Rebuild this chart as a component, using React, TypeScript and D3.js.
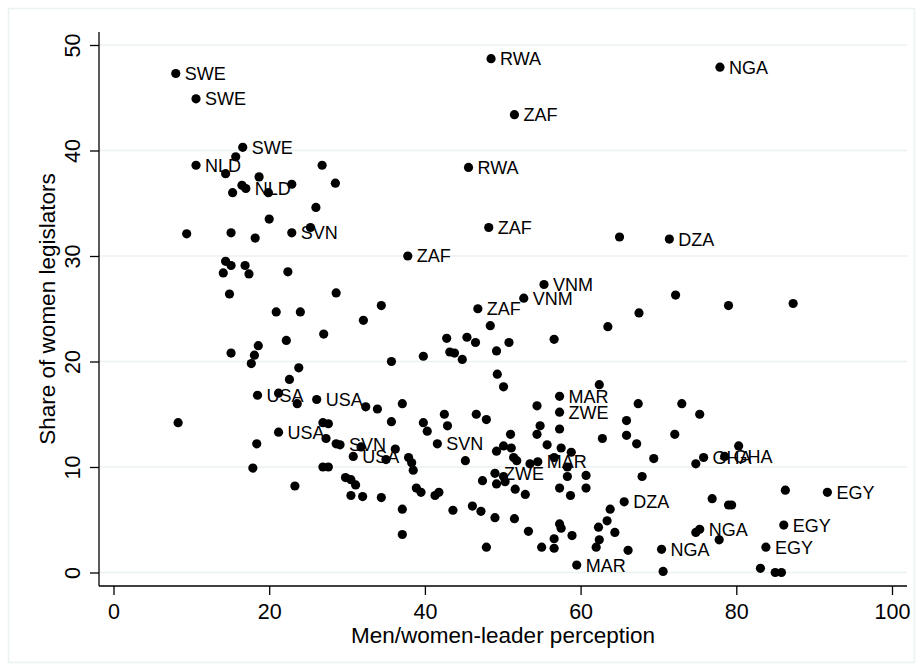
import React, { useEffect, useRef } from "react";
import * as d3 from "d3";

// countries with a marker label
const labelCodes = [
  "SWE", "SWE", "SWE", "NLD", "NLD", "SVN", "RWA", "ZAF", "RWA", "ZAF",
  "NGA", "DZA", "ZAF", "VNM", "VNM", "ZAF", "MAR", "ZWE", "USA", "USA",
  "USA", "SVN", "USA", "SVN", "MAR", "ZWE", "GHA", "GHA", "EGY", "EGY",
  "EGY", "NGA", "NGA", "DZA", "MAR",
];
const labelX = [
  8.0, 10.6, 16.6, 10.6, 17.0, 22.9, 48.5, 51.5, 45.6, 48.2,
  77.9, 71.4, 37.8, 55.3, 52.7, 46.8, 57.3, 57.3, 18.5, 26.1,
  21.2, 29.1, 30.8, 41.6, 54.5, 49.0, 75.8, 78.5, 91.7, 86.1,
  83.8, 75.3, 70.4, 65.6, 59.5,
];
const labelY = [
  47.3, 44.9, 40.3, 38.6, 36.4, 32.2, 48.7, 43.4, 38.4, 32.7,
  47.9, 31.6, 30.0, 27.3, 26.0, 25.0, 16.7, 15.2, 16.8, 16.4,
  13.3, 12.1, 11.0, 12.2, 10.5, 9.4, 10.9, 11.0, 7.6, 4.5,
  2.4, 4.1, 2.2, 6.7, 0.7,
];

// the remaining countries
const otherX = [
  15.7, 14.4, 26.8, 28.5, 18.7, 16.5, 15.3, 19.9, 22.9, 26.0,
  20.0, 25.3, 9.4, 15.1, 18.2, 14.4, 15.1, 16.9, 14.1, 17.4,
  22.4, 14.9, 28.6, 34.4, 20.9, 24.0, 32.1, 27.0, 22.2, 18.6,
  18.1, 15.1, 17.7, 35.7, 23.8, 22.6, 21.2, 23.6, 32.4, 33.9,
  8.3, 26.9, 27.6, 35.7, 18.4, 27.3, 28.6, 31.8, 35.0, 36.2,
  17.9, 26.9, 27.6, 29.8, 30.5, 31.1, 23.3, 30.5, 32.0, 34.4,
  65.0, 72.2, 79.0, 87.3, 48.4, 42.8, 45.4, 46.5, 50.8, 56.6,
  63.5, 67.5, 43.2, 43.8, 44.8, 49.2, 39.8, 49.3, 50.1, 62.4,
  54.4, 67.4, 37.1, 39.8, 42.5, 46.6, 47.9, 40.3, 42.9, 54.8,
  57.3, 65.9, 51.0, 54.4, 62.8, 65.9, 72.1, 67.2, 69.4, 67.9,
  37.9, 38.3, 38.5, 38.9, 39.5, 37.1, 37.1, 41.3, 41.8, 45.2,
  43.6, 46.1, 47.2, 49.0, 51.5, 47.9, 49.2, 50.1, 51.1, 51.4,
  51.8, 53.5, 55.7, 57.5, 58.8, 56.6, 58.3, 50.1, 50.3, 47.4,
  49.2, 51.6, 52.9, 58.3, 60.7, 60.7, 57.3, 58.7, 63.8, 63.4,
  62.3, 64.4, 62.4, 62.0, 66.1, 57.3, 57.5, 58.9, 53.3, 56.6,
  56.6, 55.0, 70.6, 73.0, 75.3, 80.3, 74.8, 86.3, 76.9, 79.0,
  79.4, 74.8, 77.8, 83.1, 85.0, 85.8,
];
const otherY = [
  39.4, 37.8, 38.6, 36.9, 37.5, 36.7, 36.0, 36.0, 36.8, 34.6,
  33.5, 32.7, 32.1, 32.2, 31.7, 29.5, 29.1, 29.1, 28.4, 28.3,
  28.5, 26.4, 26.5, 25.3, 24.7, 24.7, 23.9, 22.6, 22.0, 21.5,
  20.6, 20.8, 19.8, 20.0, 19.4, 18.3, 17.0, 16.0, 15.7, 15.5,
  14.2, 14.2, 14.1, 14.3, 12.2, 12.7, 12.2, 11.9, 10.7, 11.7,
  9.9, 10.0, 10.0, 9.0, 8.8, 8.3, 8.2, 7.3, 7.2, 7.1,
  31.8, 26.3, 25.3, 25.5, 23.4, 22.2, 22.3, 21.8, 21.8, 22.1,
  23.3, 24.6, 20.9, 20.8, 20.2, 21.0, 20.5, 18.8, 17.6, 17.8,
  15.8, 16.0, 16.0, 14.2, 15.0, 15.0, 14.5, 13.4, 13.9, 13.9,
  13.6, 14.4, 13.1, 13.1, 12.7, 13.0, 13.1, 12.2, 10.8, 9.1,
  10.9, 10.4, 9.7, 8.0, 7.6, 6.0, 3.6, 7.3, 7.6, 10.6,
  5.9, 6.3, 5.8, 5.2, 5.1, 2.4, 11.5, 12.0, 11.8, 10.9,
  10.6, 10.3, 12.1, 11.8, 11.4, 10.9, 10.0, 9.1, 8.6, 8.7,
  8.4, 7.9, 7.4, 9.1, 9.2, 8.0, 8.0, 7.3, 6.0, 4.9,
  4.3, 3.8, 3.1, 2.4, 2.1, 4.6, 4.2, 3.5, 3.9, 3.2,
  2.3, 2.4, 0.1, 16.0, 15.0, 12.0, 10.3, 7.8, 7.0, 6.4,
  6.4, 3.8, 3.1, 0.4, 0.0, 0.0,
];

const xTicks = [0, 20, 40, 60, 80, 100];
const yTicks = [0, 10, 20, 30, 40, 50];

const W = 923;
const H = 671;
const font = "'Liberation Sans', Arial, Helvetica, sans-serif";
const grid = "#eaf2f3";

export default function App() {
  const ref = useRef<SVGSVGElement>(null);

  useEffect(() => {
    const svg = d3.select(ref.current);
    svg.selectAll("*").remove();

    const left = 99, right = 907, top = 32, bottom = 586;
    const x = d3.scaleLinear().domain([0, 100]).range([113.5, 892]);
    const y = d3.scaleLinear().domain([0, 50]).range([572.5, 45]);

    svg.append("rect")
      .attr("width", W).attr("height", H).attr("fill", "#fff");
    // graph region border
    svg.append("rect")
      .attr("x", 8.5).attr("y", 8.5)
      .attr("width", 906).attr("height", 654)
      .attr("fill", "none").attr("stroke", grid).attr("stroke-width", 1.5);

    // gridlines
    svg.append("g").selectAll("line")
      .data(yTicks)
      .enter()
      .append("line")
      .attr("x1", left).attr("x2", right)
      .attr("y1", d => y(d)).attr("y2", d => y(d))
      .attr("stroke", grid).attr("stroke-width", 1.6);

    const xAxis = d3.axisBottom(x).tickValues(xTicks).tickSize(9).tickSizeOuter(0).tickPadding(9);
    const gx = svg.append("g")
      .attr("transform", `translate(0,${bottom})`)
      .call(xAxis);
    gx.select(".domain").remove();
    gx.selectAll("line").attr("stroke", "#000").attr("stroke-width", 1.3);
    gx.selectAll("text")
      .attr("fill", "#000")
      .style("font-family", font)
      .style("font-size", "21.5px");

    const yAxis = d3.axisLeft(y).tickValues(yTicks).tickSize(9).tickSizeOuter(0);
    const gy = svg.append("g")
      .attr("transform", `translate(${left},0)`)
      .call(yAxis);
    gy.select(".domain").remove();
    gy.selectAll("line").attr("stroke", "#000").attr("stroke-width", 1.3);
    gy.selectAll("text")
      .attr("x", null)
      .attr("dy", null)
      .attr("transform", "translate(-19,0) rotate(-90)")
      .attr("text-anchor", "middle")
      .attr("fill", "#000")
      .style("font-family", font)
      .style("font-size", "21.5px");

    // axis lines
    svg.append("line")
      .attr("x1", left).attr("x2", left).attr("y1", top).attr("y2", bottom)
      .attr("stroke", "#000").attr("stroke-width", 1.3);
    svg.append("line")
      .attr("x1", left).attr("x2", right).attr("y1", bottom).attr("y2", bottom)
      .attr("stroke", "#000").attr("stroke-width", 1.3);

    // axis titles
    svg.append("text")
      .attr("x", (left + right) / 2)
      .attr("y", 643)
      .attr("text-anchor", "middle")
      .style("font-family", font)
      .style("font-size", "22.5px")
      .text("Men/women-leader perception");
    svg.append("text")
      .attr("transform", `translate(55,${(top + bottom) / 2}) rotate(-90)`)
      .attr("text-anchor", "middle")
      .style("font-family", font)
      .style("font-size", "22.5px")
      .text("Share of women legislators");

    // markers
    const dots = svg.append("g").attr("fill", "#000");
    dots.selectAll("circle.other")
      .data(otherX.map((d, i) => [d, otherY[i]]))
      .enter()
      .append("circle")
      .classed("other", true)
      .attr("cx", d => x(d[0]))
      .attr("cy", d => y(d[1]))
      .attr("r", 4.6);
    dots.selectAll("circle.lab")
      .data(labelX.map((d, i) => [d, labelY[i]]))
      .enter()
      .append("circle")
      .classed("lab", true)
      .attr("cx", d => x(d[0]))
      .attr("cy", d => y(d[1]))
      .attr("r", 4.6);

    // marker labels
    svg.append("g").selectAll("text")
      .data(labelCodes)
      .enter()
      .append("text")
      .attr("x", (d, i) => x(labelX[i]) + 9)
      .attr("y", (d, i) => y(labelY[i]))
      .attr("dy", "0.36em")
      .style("font-family", font)
      .style("font-size", "18px")
      .text(d => d);
  }, []);

  return (
    <svg
      ref={ref}
      width={W}
      height={H}
      style={{ position: "absolute", left: 0, top: 0, display: "block" }}
    />
  );
}
